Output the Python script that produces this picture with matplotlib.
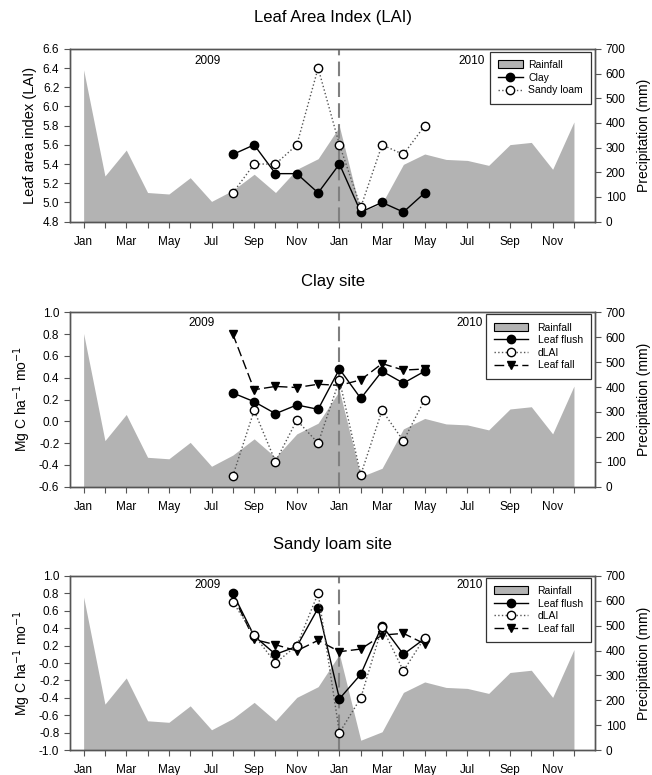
import numpy as np
import matplotlib
matplotlib.use("Agg")
import matplotlib.pyplot as plt
from matplotlib.patches import Patch
from matplotlib.lines import Line2D

plt.rcParams['font.family'] = ['Liberation Sans', 'DejaVu Sans']

# months Jan 2009 .. Dec 2010 -> index 0..23
months = np.arange(24)
tick_labels = ["Jan", "Mar", "May", "Jul", "Sep", "Nov"] * 2
rainfall = [615, 185, 290, 118, 112, 178, 82, 127, 192, 118, 212, 255,
            385, 40, 74, 232, 274, 252, 248, 228, 312, 321, 212, 404]

# Aug 2009 .. May 2010
obs_months = np.arange(7, 17)

lai_clay = [5.5, 5.6, 5.3, 5.3, 5.1, 5.4, 4.9, 5.0, 4.9, 5.1]
lai_sandy = [5.1, 5.4, 5.4, 5.6, 6.4, 5.6, 4.95, 5.6, 5.5, 5.8]

clay_flush = [0.26, 0.18, 0.07, 0.15, 0.11, 0.48, 0.21, 0.46, 0.35, 0.46]
clay_dlai = [-0.50, 0.10, -0.37, 0.01, -0.20, 0.38, -0.49, 0.10, -0.18, 0.20]
clay_fall = [0.80, 0.29, 0.32, 0.31, 0.34, 0.33, 0.38, 0.53, 0.47, 0.48]

sandy_flush = [0.80, 0.31, 0.10, 0.19, 0.63, -0.41, -0.13, 0.43, 0.10, 0.28]
sandy_dlai = [0.70, 0.32, 0.00, 0.20, 0.80, -0.80, -0.40, 0.41, -0.09, 0.29]
sandy_fall = [0.78, 0.27, 0.21, 0.14, 0.26, 0.13, 0.16, 0.32, 0.34, 0.22]

fig = plt.figure(figsize=(6.52, 7.75), dpi=100)

L, W = 0.107, 0.806
# bottom, height, title, ylim, ylabel, year-label x/y positions
panels = [
    (0.714, 0.223, "Leaf Area Index (LAI)", (4.8, 6.6), "Leaf area index (LAI)", (5.8, 18.2, 0.93)),
    (0.372, 0.225, "Clay site", (-0.6, 1.0), "Mg C ha$^{-1}$ mo$^{-1}$", (5.55, 18.1, 0.94)),
    (0.032, 0.225, "Sandy loam site", (-1.0, 1.0), "Mg C ha$^{-1}$ mo$^{-1}$", (5.8, 18.1, 0.945)),
]

spine_col = "#555555"
rain_col = "#b3b3b3"
dash = (0, (7, 3))

for i, (bot, h, title, ylim, ylabel, yrs) in enumerate(panels):
    ax = fig.add_axes([L, bot, W, h])
    ax2 = ax.twinx()
    ax.set_zorder(ax2.get_zorder() + 1)
    ax.patch.set_visible(False)

    ax2.fill_between(months, 0, rainfall, color=rain_col, lw=0)
    ax2.set_ylim(0, 700)
    ax2.set_yticks(np.arange(0, 701, 100))
    ax2.set_ylabel("Precipitation (mm)", fontsize=10, labelpad=8)

    ax.axvline(12, color="#808080", lw=1.5, ls=dash, zorder=1)

    rain_h = Patch(facecolor=rain_col, edgecolor="black", lw=0.8)
    flush_h = Line2D([], [], color="black", lw=1, marker="o", ms=6, mfc="black")
    open_h = Line2D([], [], color="#555555", lw=1, ls=":", marker="o", ms=6,
                    mfc="white", mec="black")
    if i == 0:
        ax.plot(obs_months, lai_clay, color="black", lw=1, marker="o", ms=6,
                mfc="black", mec="black", zorder=3)
        ax.plot(obs_months, lai_sandy, color="#555555", lw=1, ls=":", marker="o",
                ms=6, mfc="white", mec="black", zorder=3)
        handles = [rain_h, flush_h, open_h]
        labels = ["Rainfall", "Clay", "Sandy loam"]
        hl, htp = 2.4, 0.5
    else:
        flush, dlai, fall = (clay_flush, clay_dlai, clay_fall) if i == 1 else \
            (sandy_flush, sandy_dlai, sandy_fall)
        ax.plot(obs_months, fall, color="black", lw=1, ls=dash, marker="v",
                ms=6, mfc="black", mec="black", zorder=3)
        ax.plot(obs_months, flush, color="black", lw=1, marker="o", ms=6,
                mfc="black", mec="black", zorder=4)
        ax.plot(obs_months, dlai, color="#555555", lw=1, ls=":", marker="o", ms=6,
                mfc="white", mec="black", zorder=5)
        fall_h = Line2D([], [], color="black", lw=1, ls=dash, marker="v",
                        ms=6, mfc="black")
        handles = [rain_h, flush_h, open_h, fall_h]
        labels = ["Rainfall", "Leaf flush", "dLAI", "Leaf fall"]
        hl, htp = 3.3, 0.9

    top = 0.983 if i == 0 else 0.989
    leg = ax.legend(handles, labels, loc="upper right", bbox_to_anchor=(0.992, top),
                    borderaxespad=0, fontsize=7.5, frameon=True, fancybox=False,
                    edgecolor="black", handlelength=hl, handleheight=0.8,
                    borderpad=0.8, labelspacing=0.25, handletextpad=htp)
    leg.get_frame().set_linewidth(0.9)

    ticks = np.round(np.arange(ylim[0], ylim[1] + 1e-9, 0.2), 1)
    ax.set_ylim(*ylim)
    ax.set_yticks(ticks)
    ax.set_yticklabels(["%.1f" % v for v in ticks])
    ax.set_ylabel(ylabel, fontsize=10.5 if i == 0 else 10, labelpad=4)
    ax.set_xlim(-0.65, 24.0)
    ax.set_xticks(months)
    ax.set_xticklabels([tick_labels[m // 2] if m % 2 == 0 else "" for m in months])
    ax.set_title(title, fontsize=12, pad=19)

    ax.text(yrs[0], yrs[2], "2009", transform=ax.get_xaxis_transform(), ha="center",
            va="center", fontsize=8.5)
    ax.text(yrs[1], yrs[2], "2010", transform=ax.get_xaxis_transform(), ha="center",
            va="center", fontsize=8.5)

    for a in (ax, ax2):
        for s in a.spines.values():
            s.set_color(spine_col)
            s.set_linewidth(1)
        a.tick_params(direction="out", length=4, width=0.8, color=spine_col,
                      labelsize=8.5)
    ax.tick_params(axis="x", pad=6)

fig.savefig("out.png", dpi=100)
